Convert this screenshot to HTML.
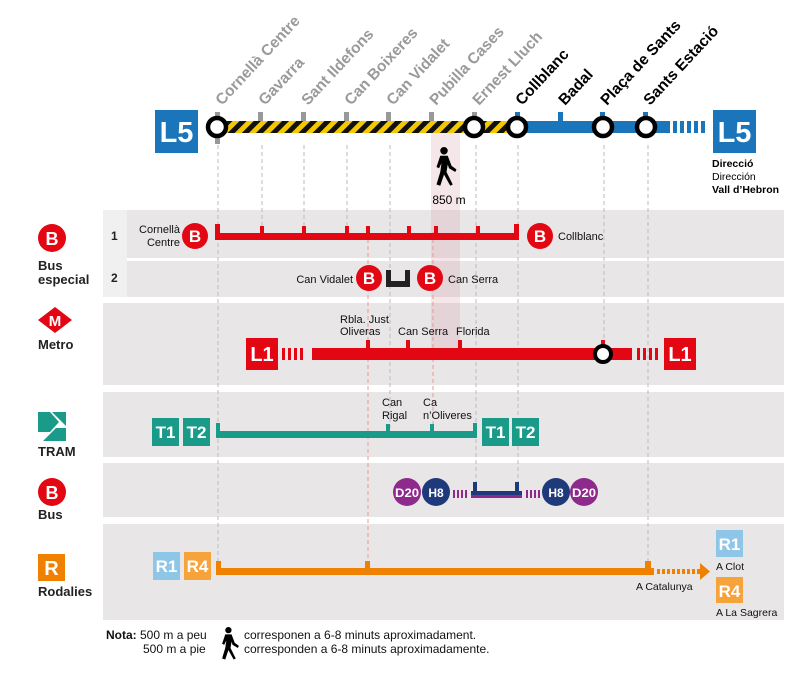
<!DOCTYPE html>
<html><head><meta charset="utf-8"><style>
html,body{margin:0;padding:0;background:#fff;}
svg{display:block;font-family:"Liberation Sans",sans-serif;}
</style></head><body>
<svg width="800" height="686" viewBox="0 0 800 686" xmlns="http://www.w3.org/2000/svg">
<defs>
<pattern id="hz" width="10" height="10" patternUnits="userSpaceOnUse" patternTransform="rotate(45)">
<rect width="10" height="10" fill="#111"/><rect width="5" height="10" fill="#f4c800"/>
</pattern>
<g id="walk">
<circle cx="8" cy="3" r="3"/>
<path d="M5 7 L11 7 L14 15 L18 18 L17 20 L12 17 L11 14 L10 20 L15 30 L13 31 L8 22 L5 31 L2 30 L5 20 L6 13 L4 17 L2 16 Z"/>
</g>
</defs>

<!-- panels -->
<rect x="103" y="210" width="681" height="48" fill="#e8e6e7"/>
<rect x="103" y="261" width="681" height="36" fill="#e8e6e7"/>
<rect x="103" y="210" width="24" height="87" fill="#f1f0f0"/>
<rect x="103" y="303" width="681" height="82" fill="#e8e6e7"/>
<rect x="103" y="392" width="681" height="65" fill="#e8e6e7"/>
<rect x="103" y="463" width="681" height="54" fill="#e8e6e7"/>
<rect x="103" y="524" width="681" height="96" fill="#e8e6e7"/>

<!-- walk band -->
<rect x="431" y="130" width="29" height="222" fill="#d99aa6" opacity="0.25"/>

<!-- dashed verticals -->
<g stroke="#bbb" stroke-width="1" stroke-dasharray="4,3" fill="none">
<line x1="218" y1="145" x2="218" y2="566"/>
<line x1="262" y1="145" x2="262" y2="232"/>
<line x1="304" y1="145" x2="304" y2="232"/>
<line x1="347" y1="145" x2="347" y2="232"/>
<line x1="390" y1="145" x2="390" y2="428"/>
<line x1="476" y1="145" x2="476" y2="485"/>
<line x1="518" y1="145" x2="518" y2="485"/>
<line x1="604" y1="145" x2="604" y2="345"/>
<line x1="648" y1="145" x2="648" y2="562"/>
</g>
<line x1="368" y1="232" x2="368" y2="566" stroke="#e89a9a" stroke-width="1" stroke-dasharray="4,3"/>
<line x1="433" y1="232" x2="433" y2="428" stroke="#e89a9a" stroke-width="1" stroke-dasharray="4,3"/>

<!-- L5 line -->
<rect x="155" y="110" width="43" height="43" fill="#1a75bb"/>
<text x="176.5" y="142" font-size="29" font-weight="bold" fill="#fff" text-anchor="middle">L5</text>
<rect x="713" y="110" width="43" height="43" fill="#1a75bb"/>
<text x="734.5" y="142" font-size="29" font-weight="bold" fill="#fff" text-anchor="middle">L5</text>
<g fill="#999">
<rect x="215" y="112" width="5" height="32"/>
<rect x="258" y="112" width="5" height="10"/>
<rect x="301" y="112" width="5" height="10"/>
<rect x="344" y="112" width="5" height="10"/>
<rect x="386" y="112" width="5" height="10"/>
<rect x="429" y="112" width="5" height="10"/>
<rect x="472" y="112" width="5" height="10"/>
</g>
<g fill="#1a75bb">
<rect x="515" y="112" width="5" height="10"/>
<rect x="558" y="112" width="5" height="10"/>
<rect x="600" y="112" width="5" height="10"/>
<rect x="643" y="112" width="5" height="10"/>
<rect x="517" y="121" width="153" height="12"/>
<rect x="673" y="121" width="4" height="12"/><rect x="680" y="121" width="4" height="12"/><rect x="687" y="121" width="4" height="12"/><rect x="694" y="121" width="4" height="12"/><rect x="701" y="121" width="4" height="12"/>
</g>
<rect x="217" y="121" width="300" height="12" fill="url(#hz)"/>
<g fill="#fff" stroke="#000" stroke-width="4.5">
<circle cx="217" cy="127" r="9"/>
<circle cx="474" cy="127" r="9"/>
<circle cx="517" cy="127" r="9"/>
<circle cx="603" cy="127" r="9"/>
<circle cx="646" cy="127" r="9"/>
</g>
<g font-size="15.5" font-weight="bold">
<g fill="#9a9a9a">
<text transform="translate(222,106) rotate(-47)">Cornellà Centre</text>
<text transform="translate(265,106) rotate(-47)">Gavarra</text>
<text transform="translate(308,106) rotate(-47)">Sant Ildefons</text>
<text transform="translate(351,106) rotate(-47)">Can Boixeres</text>
<text transform="translate(393,106) rotate(-47)">Can Vidalet</text>
<text transform="translate(436,106) rotate(-47)">Pubilla Cases</text>
<text transform="translate(479,106) rotate(-47)">Ernest Lluch</text>
</g>
<g fill="#000">
<text transform="translate(522,106) rotate(-47)">Collblanc</text>
<text transform="translate(565,106) rotate(-47)">Badal</text>
<text transform="translate(607,106) rotate(-47)">Plaça de Sants</text>
<text transform="translate(650,106) rotate(-47)">Sants Estació</text>
</g>
</g>
<g font-size="10.5">
<text x="712" y="167" font-weight="bold">Direcció</text>
<text x="712" y="180">Dirección</text>
<text x="712" y="193" font-weight="bold">Vall d’Hebron</text>
</g>
<use href="#walk" transform="translate(434,147) scale(1.25)"/>
<text x="449" y="204" font-size="12" text-anchor="middle">850 m</text>

<!-- left legend -->
<circle cx="52" cy="238" r="14" fill="#e30613"/>
<text x="52" y="245" font-size="18" font-weight="bold" fill="#fff" text-anchor="middle">B</text>
<g font-size="13" font-weight="bold" fill="#222">
<text x="38" y="270">Bus</text><text x="38" y="284">especial</text>
<text x="38" y="349">Metro</text>
<text x="38" y="456">TRAM</text>
<text x="38" y="519">Bus</text>
<text x="38" y="596">Rodalies</text>
<text x="111" y="240" font-size="12">1</text>
<text x="111" y="282" font-size="12">2</text>
</g>
<polygon points="55,307 72,320 55,333 38,320" fill="#e30613"/>
<text x="55" y="326" font-size="15" font-weight="bold" fill="#fff" text-anchor="middle">M</text>
<polygon points="38,412 50,412 59,422 50,432 38,432" fill="#1a9a88"/>
<polygon points="52,412 66,412 66,426" fill="#1a9a88"/>
<polygon points="66,428 66,441 43,441 56,428" fill="#1a9a88"/>
<circle cx="52" cy="492" r="14" fill="#e30613"/>
<text x="52" y="499" font-size="18" font-weight="bold" fill="#fff" text-anchor="middle">B</text>
<rect x="38" y="554" width="27" height="27" fill="#f08000"/>
<text x="51.5" y="575" font-size="20" font-weight="bold" fill="#fff" text-anchor="middle">R</text>

<!-- Bus especial 1 -->
<g fill="#e30613">
<rect x="217" y="233" width="300" height="7"/>
<rect x="215" y="224" width="5" height="16"/>
<rect x="514" y="224" width="5" height="16"/>
<rect x="260" y="226" width="4" height="8"/><rect x="302" y="226" width="4" height="8"/><rect x="345" y="226" width="4" height="8"/><rect x="366" y="226" width="4" height="8"/><rect x="407" y="226" width="4" height="8"/><rect x="434" y="226" width="4" height="8"/><rect x="476" y="226" width="4" height="8"/>
<circle cx="195" cy="236" r="13"/><circle cx="540" cy="236" r="13"/>
<circle cx="369" cy="278" r="13"/><circle cx="430" cy="278" r="13"/>
</g>
<g font-size="17" font-weight="bold" fill="#fff" text-anchor="middle">
<text x="195" y="242">B</text><text x="540" y="242">B</text>
<text x="369" y="284">B</text><text x="430" y="284">B</text>
</g>
<g font-size="11" fill="#111">
<text x="180" y="233" text-anchor="end">Cornellà</text>
<text x="180" y="246" text-anchor="end">Centre</text>
<text x="558" y="240">Collblanc</text>
<text x="353" y="283" text-anchor="end">Can Vidalet</text>
<text x="448" y="283">Can Serra</text>
</g>
<path d="M386 270 h5 v11 h14 v-11 h5 v17 h-24 z" fill="#222"/>

<!-- Metro -->
<g fill="#e30613">
<rect x="246" y="338" width="32" height="32"/>
<rect x="664" y="338" width="32" height="32"/>
<rect x="282" y="348" width="3" height="12"/><rect x="288" y="348" width="3" height="12"/><rect x="294" y="348" width="3" height="12"/><rect x="300" y="348" width="3" height="12"/>
<rect x="312" y="348" width="302" height="12"/>
<rect x="614" y="348" width="18" height="12"/>
<rect x="637" y="348" width="3" height="12"/><rect x="643" y="348" width="3" height="12"/><rect x="649" y="348" width="3" height="12"/><rect x="655" y="348" width="3" height="12"/>
<rect x="366" y="340" width="4" height="9"/><rect x="406" y="340" width="4" height="9"/><rect x="458" y="340" width="4" height="9"/><rect x="601" y="340" width="4" height="9"/>
</g>
<circle cx="603" cy="354" r="8" fill="#fff" stroke="#000" stroke-width="4"/>
<g font-size="20" font-weight="bold" fill="#fff" text-anchor="middle">
<text x="262" y="361">L1</text><text x="680" y="361">L1</text>
</g>
<g font-size="11" fill="#111">
<text x="340" y="323">Rbla. Just</text>
<text x="340" y="335">Oliveras</text>
<text x="398" y="335">Can Serra</text>
<text x="456" y="335">Florida</text>
</g>

<!-- TRAM -->
<g fill="#1a9a88">
<rect x="152" y="418" width="27" height="28"/><rect x="183" y="418" width="27" height="28"/>
<rect x="482" y="418" width="27" height="28"/><rect x="512" y="418" width="27" height="28"/>
<rect x="216" y="431" width="261" height="7"/>
<rect x="216" y="423" width="4" height="14"/><rect x="473" y="423" width="4" height="14"/>
<rect x="386" y="424" width="4" height="8"/><rect x="430" y="424" width="4" height="8"/>
</g>
<g font-size="17" font-weight="bold" fill="#fff" text-anchor="middle">
<text x="165.5" y="438">T1</text><text x="196.5" y="438">T2</text>
<text x="495.5" y="438">T1</text><text x="525.5" y="438">T2</text>
</g>
<g font-size="11" fill="#111">
<text x="382" y="406">Can</text><text x="382" y="419">Rigal</text>
<text x="423" y="406">Ca</text><text x="423" y="419">n’Oliveres</text>
</g>

<!-- Bus -->
<g>
<rect x="471" y="491" width="51" height="4" fill="#1f3a7a"/>
<rect x="471" y="495" width="51" height="3" fill="#8e2a8c"/>
<rect x="473" y="482" width="4" height="10" fill="#1f3a7a"/><rect x="515" y="482" width="4" height="10" fill="#1f3a7a"/>
<g fill="#8e2a8c"><rect x="453" y="490" width="2" height="8"/><rect x="457" y="490" width="2" height="8"/><rect x="461" y="490" width="2" height="8"/><rect x="465" y="490" width="2" height="8"/>
<rect x="526" y="490" width="2" height="8"/><rect x="530" y="490" width="2" height="8"/><rect x="534" y="490" width="2" height="8"/><rect x="538" y="490" width="2" height="8"/></g>
<circle cx="407" cy="492" r="14" fill="#8e2a8c"/>
<circle cx="436" cy="492" r="14" fill="#1f3a7a"/>
<circle cx="556" cy="492" r="14" fill="#1f3a7a"/>
<circle cx="584" cy="492" r="14" fill="#8e2a8c"/>
</g>
<g font-size="12" font-weight="bold" fill="#fff" text-anchor="middle">
<text x="407" y="497" textLength="24" lengthAdjust="spacingAndGlyphs">D20</text>
<text x="436" y="497">H8</text>
<text x="556" y="497">H8</text>
<text x="584" y="497" textLength="24" lengthAdjust="spacingAndGlyphs">D20</text>
</g>

<!-- Rodalies -->
<rect x="153" y="552" width="27" height="28" fill="#8ec6e8"/>
<rect x="184" y="552" width="27" height="28" fill="#f5a33a"/>
<rect x="716" y="530" width="27" height="27" fill="#8ec6e8"/>
<rect x="716" y="577" width="27" height="26" fill="#f5a33a"/>
<g fill="#f08000">
<rect x="216" y="568" width="438" height="7"/>
<rect x="216" y="561" width="5" height="12"/>
<rect x="365" y="561" width="5" height="8"/>
<rect x="645" y="561" width="6" height="8"/>
<rect x="657" y="569" width="3" height="5"/><rect x="662" y="569" width="3" height="5"/><rect x="667" y="569" width="3" height="5"/><rect x="672" y="569" width="3" height="5"/><rect x="677" y="569" width="3" height="5"/><rect x="682" y="569" width="3" height="5"/><rect x="687" y="569" width="3" height="5"/><rect x="692" y="569" width="3" height="5"/><rect x="697" y="569" width="3" height="5"/>
<polygon points="700,563 710,571.5 700,580"/>
</g>
<g font-size="17" font-weight="bold" fill="#fff" text-anchor="middle">
<text x="166.5" y="572">R1</text><text x="197.5" y="572">R4</text>
<text x="729.5" y="550">R1</text><text x="729.5" y="597">R4</text>
</g>
<g font-size="10.5" fill="#111">
<text x="636" y="590">A Catalunya</text>
<text x="716" y="570">A Clot</text>
<text x="716" y="616">A La Sagrera</text>
</g>

<!-- note -->
<g font-size="12" fill="#111">
<text x="106" y="639"><tspan font-weight="bold">Nota:</tspan> 500 m a peu</text>
<text x="143" y="653">500 m a pie</text>
<text x="244" y="639">corresponen a 6-8 minuts aproximadament.</text>
<text x="244" y="653">corresponden a 6-8 minuts aproximadamente.</text>
</g>
<use href="#walk" transform="translate(220,627) scale(1.05)"/>
</svg>
</body></html>
